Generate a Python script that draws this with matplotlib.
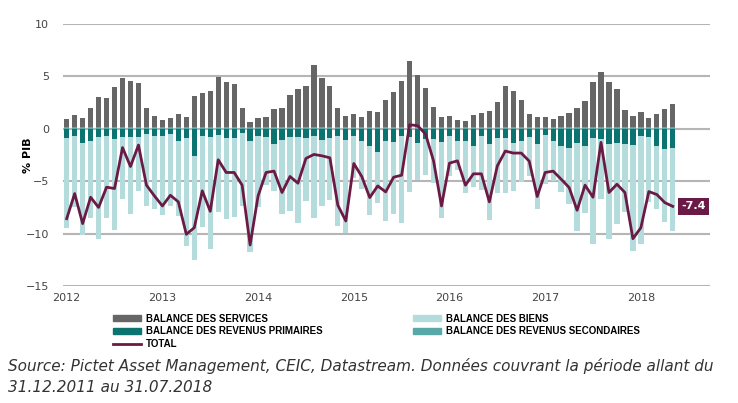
import numpy as np
import matplotlib
matplotlib.use("Agg")
from matplotlib import pyplot as plt
from matplotlib.patches import Patch
from matplotlib.lines import Line2D

# monthly data, Jan 2012 - May 2018, % of GDP
services = [0.72, 1.07, 0.85, 1.80, 2.80, 2.76, 3.78, 4.67, 4.35, 4.13, 1.80, 1.01,
            0.66, 0.82, 1.17, 0.95, 2.89, 3.24, 3.37, 4.77, 4.26, 4.07, 1.74, 0.47,
            0.82, 0.95, 1.68, 1.80, 3.05, 3.56, 3.88, 5.85, 4.61, 3.84, 1.74, 0.98,
            1.20, 0.95, 1.49, 1.42, 2.54, 3.30, 4.32, 6.23, 4.96, 3.69, 1.90, 0.95,
            1.01, 0.63, 0.56, 1.10, 1.30, 1.49, 2.38, 3.84, 3.37, 2.51, 1.23, 0.95,
            0.88, 0.72, 0.98, 1.33, 1.74, 2.44, 4.23, 5.21, 4.26, 3.56, 1.62, 1.01,
            1.36, 0.79, 1.20, 1.68, 2.16]
secondaires = [0.2] * 77
primaires = [-0.90, -0.67, -1.37, -1.18, -0.80, -0.67, -1.00, -0.80, -0.83, -0.83, -0.54, -0.67,
             -0.67, -0.54, -1.18, -0.86, -2.58, -0.67, -0.83, -0.60, -0.90, -0.92, -0.41, -1.18,
             -0.67, -0.80, -1.50, -1.05, -0.80, -0.83, -0.86, -0.73, -1.05, -0.86, -0.67, -1.11,
             -0.67, -1.18, -1.69, -2.20, -1.15, -1.24, -0.73, -0.83, -1.37, -1.00, -1.00, -1.24,
             -0.67, -1.15, -1.18, -1.69, -0.67, -1.50, -0.92, -0.86, -1.37, -1.18, -0.76, -1.43,
             -0.60, -1.15, -1.66, -1.82, -1.37, -1.62, -0.90, -1.00, -1.50, -1.37, -1.46, -1.56,
             -0.67, -0.80, -1.69, -1.94, -1.88]
biens = [-8.59, -6.78, -8.72, -7.35, -9.70, -7.86, -8.68, -5.87, -7.32, -5.06, -6.84, -6.94,
         -7.55, -6.82, -7.16, -10.35, -9.94, -8.69, -10.61, -7.33, -7.73, -7.52, -6.91, -10.57,
         -6.75, -4.52, -4.42, -7.03, -7.00, -8.12, -6.05, -7.77, -6.34, -5.95, -8.56, -8.86,
         -4.04, -4.52, -6.56, -4.87, -7.61, -6.88, -8.22, -5.22, -3.50, -3.40, -4.16, -7.27,
         -3.82, -2.74, -4.96, -3.91, -5.13, -7.16, -5.20, -5.31, -4.52, -3.85, -3.76, -6.18,
         -4.65, -3.81, -4.33, -5.31, -8.34, -6.40, -10.06, -5.71, -9.04, -7.68, -6.44, -10.13,
         -10.32, -6.18, -5.98, -6.98, -7.88]
total = [-8.57, -6.18, -9.04, -6.53, -7.50, -5.57, -5.70, -1.80, -3.60, -1.56, -5.38, -6.40,
         -7.36, -6.34, -6.97, -10.06, -9.43, -5.92, -7.87, -2.96, -4.17, -4.17, -5.38, -11.08,
         -6.40, -4.17, -4.04, -6.08, -4.55, -5.19, -2.83, -2.45, -2.58, -2.77, -7.29, -8.79,
         -3.31, -4.55, -6.56, -5.45, -6.02, -4.62, -4.43, 0.38, 0.29, -0.51, -3.06, -7.36,
         -3.28, -3.06, -5.38, -4.30, -4.30, -6.97, -3.54, -2.13, -2.32, -2.32, -3.09, -6.46,
         -4.17, -4.04, -4.81, -5.60, -7.77, -5.38, -6.53, -1.30, -6.08, -5.29, -6.08, -10.48,
         -9.43, -5.99, -6.27, -7.04, -7.40]
years = ["2012", "2013", "2014", "2015", "2016", "2017", "2018"]

c_serv = "#666666"
c_prim = "#0b7471"
c_biens = "#b5dcdc"
c_sec = "#58a8a8"
c_tot = "#6b1a45"

x = np.arange(len(total))
w = 0.66

fig = plt.figure(figsize=(7.38, 4.03), dpi=100)
ax = fig.add_axes([0.0854, 0.290, 0.877, 0.651])

ax.bar(x, secondaires, w, color=c_sec, zorder=2)
ax.bar(x, services, w, bottom=secondaires, color=c_serv, zorder=2)
ax.bar(x, primaires, w, color=c_prim, zorder=2)
ax.bar(x, biens, w, bottom=primaires, color=c_biens, zorder=2)
ax.plot(x, total, color=c_tot, lw=2, zorder=3)

ax.text(x[-1] + 2.6, total[-1], "{:.1f}".format(total[-1]), ha="center", va="center",
        color="white", fontsize=8, fontweight="bold",
        bbox=dict(boxstyle="square,pad=0.3", fc=c_tot, ec="none"))

ax.set_xlim(-0.46, 80.7)
ax.set_ylim(-15, 10)
ax.set_yticks([-15, -10, -5, 0, 5, 10])
ax.set_xticks(np.arange(len(years)) * 12)
ax.set_xticklabels(years)
ax.yaxis.grid(True, color="#b5b5b5", lw=1.5, zorder=0)
ax.set_axisbelow(True)
for s in ax.spines.values():
    s.set_visible(False)
ax.tick_params(length=0, labelsize=8, colors="#444444")
ax.tick_params(axis="y", pad=10)
ax.tick_params(axis="x", pad=5)
ax.set_ylabel("% PIB", fontsize=8, fontweight="bold")
ax.yaxis.set_label_coords(-0.046, 0.5)

handles = [Patch(color=c_serv), Patch(color=c_prim), Line2D([], [], color=c_tot, lw=2),
           Patch(color=c_biens), Patch(color=c_sec)]
labels = ["BALANCE DES SERVICES", "BALANCE DES REVENUS PRIMAIRES", "TOTAL",
          "BALANCE DES BIENS", "BALANCE DES REVENUS SECONDAIRES"]
fig.legend(handles, labels, ncol=2, loc="upper left", bbox_to_anchor=(0.153, 0.222),
           frameon=False, handlelength=2.9, handleheight=0.5, labelspacing=0.3,
           columnspacing=9.3, handletextpad=0.5, borderpad=0, borderaxespad=0,
           prop={"family": "Liberation Sans", "weight": "bold", "size": 7})

fig.text(0.011, 0.112, "Source: Pictet Asset Management, CEIC, Datastream. Données couvrant la période allant du\n"
         "31.12.2011 au 31.07.2018", fontsize=11, style="italic", color="#333333",
         va="top", linespacing=1.55)

plt.savefig("out.png", dpi=100)
